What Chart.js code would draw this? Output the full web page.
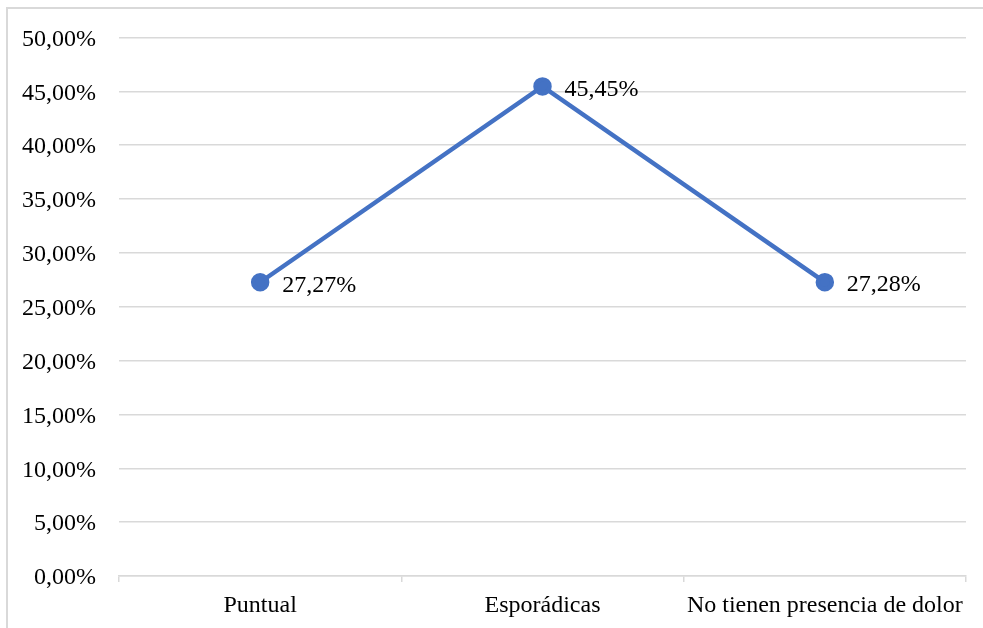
<!DOCTYPE html>
<html>
<head>
<meta charset="utf-8">
<script src="https://cdn.jsdelivr.net/npm/chart.js@4/dist/chart.umd.min.js"></script>
<style>
  html, body { margin: 0; padding: 0; background: #ffffff; }
  #wrap { position: relative; width: 983px; height: 628px; }
</style>
</head>
<body>
<div id="wrap"><canvas id="c" width="983" height="628"></canvas></div>
<script>
// Categories and values (percent)
const categories = ['Puntual', 'Esporádicas', 'No tienen presencia de dolor'];
const values = [27.27, 45.45, 27.28];
const valueLabels = ['27,27%', '45,45%', '27,28%'];

const FONT = '"Liberation Serif", "Times New Roman", serif';
const GRID = '#d9d9d9';
const LINE = '#4472C4';

function fmtPct(v) {
  return v.toFixed(2).replace('.', ',') + '%';
}

// Light frame along the top and left edges of the canvas
const framePlugin = {
  id: 'frame',
  beforeDraw(chart) {
    const ctx = chart.ctx;
    ctx.save();
    ctx.fillStyle = '#ffffff';
    ctx.fillRect(0, 0, chart.width, chart.height);
    ctx.fillStyle = GRID;
    ctx.fillRect(6, 7, 2, chart.height - 7);
    ctx.fillRect(6, 7, chart.width - 6, 2);
    ctx.restore();
  }
};

// Value labels to the right of each point
const valueLabelPlugin = {
  id: 'valueLabels',
  afterDatasetsDraw(chart) {
    const ctx = chart.ctx;
    const meta = chart.getDatasetMeta(0);
    ctx.save();
    ctx.font = '24px ' + FONT;
    ctx.fillStyle = '#000000';
    ctx.textAlign = 'left';
    ctx.textBaseline = 'middle';
    meta.data.forEach((pt, i) => {
      ctx.fillText(valueLabels[i], pt.x + 22, pt.y + 3);
    });
    ctx.restore();
  }
};

new Chart(document.getElementById('c'), {
  type: 'line',
  data: {
    labels: categories,
    datasets: [{
      data: values,
      borderColor: LINE,
      backgroundColor: LINE,
      borderWidth: 4.5,
      pointRadius: 7,
      pointHoverRadius: 7,
      pointBackgroundColor: LINE,
      pointBorderColor: LINE,
      tension: 0,
      fill: false
    }]
  },
  options: {
    responsive: false,
    animation: false,
    devicePixelRatio: 1,
    layout: { padding: { left: 0, right: 17, top: 37, bottom: 0 } },
    plugins: {
      legend: { display: false },
      tooltip: { enabled: false }
    },
    scales: {
      x: {
        offset: true,
        grid: {
          offset: true,
          drawOnChartArea: false,
          drawTicks: true,
          tickLength: 6,
          color: GRID,
          lineWidth: 1.5
        },
        border: { display: true, color: GRID, width: 1.5 },
        ticks: {
          color: '#000000',
          font: { family: FONT, size: 24 },
          padding: 9,
          maxRotation: 0,
          autoSkip: false
        },
        afterFit(scale) { scale.height = 52; }
      },
      y: {
        min: 0,
        max: 50,
        ticks: {
          stepSize: 5,
          color: '#000000',
          font: { family: FONT, size: 24 },
          padding: 23,
          labelOffset: 2,
          callback: (v) => fmtPct(v)
        },
        grid: {
          color: GRID,
          lineWidth: 1.5,
          drawTicks: false
        },
        border: { display: false },
        afterFit(scale) { scale.width = 119; }
      }
    }
  },
  plugins: [framePlugin, valueLabelPlugin]
});
</script>
</body>
</html>
